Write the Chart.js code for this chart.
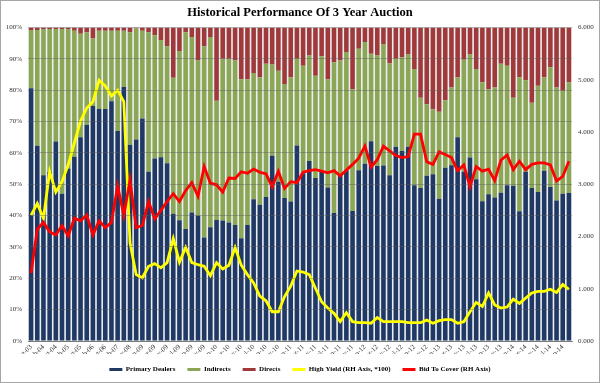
<!DOCTYPE html>
<html>
<head>
<meta charset="utf-8">
<script src="https://cdn.jsdelivr.net/npm/chart.js@4.4.1/dist/chart.umd.min.js"></script>
<style>
  html, body { margin: 0; padding: 0; background: #ffffff; }
  #wrap { width: 600px; height: 383px; position: relative; }
</style>
</head>
<body>
<div id="wrap"><canvas id="c" width="600" height="383"></canvas></div>
<script>
const categories = [
  'Aug-03','Nov-03','Feb-04','May-04','Aug-04','Nov-04','Feb-05','May-05','Aug-05','Nov-05',
  'Feb-06','May-06','Aug-06','Nov-06','Feb-07','May-07',
  'Nov-08','Dec-08',
  'Jan-09','Feb-09','Mar-09','Apr-09','May-09','Jun-09','Jul-09','Aug-09','Sep-09','Oct-09','Nov-09','Dec-09',
  'Jan-10','Feb-10','Mar-10','Apr-10','May-10','Jun-10','Jul-10','Aug-10','Sep-10','Oct-10','Nov-10','Dec-10',
  'Jan-11','Feb-11','Mar-11','Apr-11','May-11','Jun-11','Jul-11','Aug-11','Sep-11','Oct-11','Nov-11','Dec-11',
  'Jan-12','Feb-12','Mar-12','Apr-12','May-12','Jun-12','Jul-12','Aug-12','Sep-12','Oct-12','Nov-12','Dec-12',
  'Jan-13','Feb-13','Mar-13','Apr-13','May-13','Jun-13','Jul-13','Aug-13','Sep-13','Oct-13','Nov-13','Dec-13',
  'Jan-14','Feb-14','Mar-14','Apr-14','May-14','Jun-14','Jul-14','Aug-14','Sep-14','Oct-14'
];

// % of auction taken (left axis)
const primaryDealers = [
  80.6,62.3,52.9,54.0,63.6,47.0,55.0,58.8,65.0,69.0,
  75.0,74.0,74.0,76.5,67.0,81.0,62.6,64.3,71.0,54.0,
  58.2,58.6,56.7,40.6,38.5,35.7,41.0,40.0,33.0,36.3,
  38.6,38.4,37.8,37.0,32.8,37.0,45.2,43.5,45.9,59.1,
  50.8,45.6,44.5,62.4,53.5,57.4,52.0,54.0,49.0,40.8,
  53.0,54.5,41.5,54.5,56.5,63.7,55.8,56.0,52.9,62.0,
  60.6,62.0,49.7,48.8,52.7,53.2,45.4,55.3,56.1,65.0,
  54.0,58.5,51.6,44.6,46.8,45.8,47.3,49.7,49.5,41.4,
  54.0,48.8,47.5,54.3,49.1,44.8,47.0,47.2
];
const indirects = [
  18.6,36.9,46.6,45.5,35.9,52.5,44.5,40.2,33.0,29.5,
  21.5,25.0,25.0,22.5,32.0,18.0,35.9,35.4,28.0,44.5,
  39.3,37.4,37.3,43.4,54.0,62.8,56.0,49.5,61.0,60.7,
  38.0,51.6,52.2,52.5,50.7,46.5,40.3,40.6,42.5,29.1,
  35.4,36.4,39.6,27.6,34.3,33.7,32.6,36.8,34.5,48.1,
  36.5,37.7,38.8,38.7,38.9,27.9,35.3,38.6,35.7,28.0,
  29.9,29.4,37.1,28.8,22.8,20.7,27.7,21.5,24.8,19.1,
  35.7,32.9,35.2,37.9,33.5,35.1,41.1,38.1,28.1,42.7,
  29.2,27.2,33.9,29.8,38.2,36.1,32.8,35.3
];
const directs = [
  0.8,0.8,0.5,0.5,0.5,0.5,0.5,1.0,2.0,1.5,
  3.5,1.0,1.0,1.0,1.0,1.0,1.5,0.3,1.0,1.5,
  2.5,4.0,6.0,16.0,7.5,1.5,3.0,10.5,6.0,3.0,
  23.4,10.0,10.0,10.5,16.5,16.5,14.5,15.9,11.6,11.8,
  13.8,18.0,15.9,10.0,12.2,8.9,15.4,9.2,16.5,11.1,
  10.5,7.8,19.7,6.8,4.6,8.4,8.9,5.4,11.4,10.0,
  9.5,8.6,13.2,22.4,24.5,26.1,26.9,23.2,19.1,15.9,
  10.3,8.6,13.2,17.5,19.7,19.1,11.6,12.2,22.4,15.9,
  16.8,24.0,18.6,15.9,12.7,19.1,20.2,17.5
];

// right axis
const highYield = [
  2.41,2.63,2.35,3.24,2.85,3.05,3.37,3.79,4.21,4.46,
  4.58,4.99,4.88,4.69,4.80,4.58,1.88,1.27,1.21,1.43,
  1.48,1.40,1.50,1.96,1.51,1.79,1.50,1.46,1.43,1.25,
  1.50,1.38,1.45,1.79,1.45,1.27,1.11,0.86,0.77,0.56,
  0.56,0.85,1.05,1.34,1.32,1.27,1.01,0.75,0.63,0.53,
  0.37,0.54,0.37,0.35,0.35,0.34,0.45,0.37,0.37,0.37,
  0.37,0.35,0.35,0.35,0.40,0.34,0.39,0.41,0.41,0.34,
  0.37,0.56,0.74,0.66,0.92,0.69,0.63,0.65,0.80,0.72,
  0.82,0.92,0.95,0.95,0.99,0.93,1.08,0.99
];
const bidToCover = [
  1.30,2.14,2.27,2.09,2.03,2.21,2.01,2.35,2.30,2.41,
  2.03,2.30,2.17,2.27,2.97,2.40,3.08,2.17,2.21,2.67,
  2.34,2.50,2.67,2.82,2.67,2.88,3.03,2.77,3.34,3.02,
  2.99,2.85,3.12,3.11,3.24,3.21,3.29,3.23,3.20,2.95,
  3.25,2.92,3.05,3.03,3.23,3.26,3.28,3.25,3.22,3.26,
  3.16,3.27,3.38,3.50,3.73,3.33,3.47,3.73,3.64,3.55,
  3.51,3.53,3.96,3.96,3.43,3.38,3.62,3.57,3.51,3.26,
  3.37,2.95,3.34,3.25,3.29,3.07,3.46,3.56,3.28,3.44,
  3.28,3.38,3.41,3.41,3.37,3.06,3.15,3.44
];

const SERIF = "'Liberation Serif', 'Times New Roman', serif";

const plotBg = {
  id: 'plotBg',
  beforeDraw(chart) {
    const {ctx, chartArea: a} = chart;
    ctx.save();
    ctx.fillStyle = '#ffffff';
    ctx.fillRect(0, 0, chart.width, chart.height);
    ctx.fillStyle = '#eceef2';
    ctx.fillRect(a.left, a.top, a.right - a.left, a.bottom - a.top);
    ctx.restore();
  },
  afterDraw(chart) {
    const {ctx} = chart;
    ctx.save();
    ctx.strokeStyle = '#a6a6a6';
    ctx.lineWidth = 1;
    ctx.strokeRect(0.5, 0.5, chart.width - 1, chart.height - 1);
    ctx.restore();
  }
};

new Chart(document.getElementById('c'), {
  type: 'bar',
  data: {
    labels: categories,
    datasets: [
      { type: 'bar', label: 'Primary Dealers', data: primaryDealers, backgroundColor: '#1f3864', borderWidth: 0, yAxisID: 'y', order: 2 },
      { type: 'bar', label: 'Indirects', data: indirects, backgroundColor: '#8ba655', borderWidth: 0, yAxisID: 'y', order: 2 },
      { type: 'bar', label: 'Directs', data: directs, backgroundColor: '#a0393a', borderWidth: 0, yAxisID: 'y', order: 2 },
      { type: 'line', label: 'High Yield (RH Axis, *100)', data: highYield, borderColor: '#ffff00', backgroundColor: '#ffff00', borderWidth: 2.8, pointRadius: 0, tension: 0, yAxisID: 'y1', order: 1 },
      { type: 'line', label: 'Bid To Cover (RH Axis)', data: bidToCover, borderColor: '#ff0000', backgroundColor: '#ff0000', borderWidth: 2.8, pointRadius: 0, tension: 0, yAxisID: 'y1', order: 0 }
    ]
  },
  options: {
    responsive: false,
    animation: false,
    devicePixelRatio: 1,
    layout: { padding: { left: 0, right: 0, top: 0, bottom: 0 } },
    datasets: { bar: { barPercentage: 0.74, categoryPercentage: 1.0 } },
    plugins: {
      title: {
        display: true,
        text: 'Historical Performance Of 3 Year Auction',
        font: { family: SERIF, size: 12.5, weight: 'bold' },
        color: '#000000',
        padding: { top: 5, bottom: 7.5 }
      },
      legend: {
        position: 'bottom',
        labels: {
          font: { family: SERIF, size: 7, weight: 'bold' },
          color: '#000000',
          boxWidth: 13,
          boxHeight: 3,
          padding: 12,
          sort: (a, b) => a.datasetIndex - b.datasetIndex,
          generateLabels: (chart) => Chart.defaults.plugins.legend.labels.generateLabels(chart)
            .map(l => Object.assign(l, { lineWidth: 0 }))
        }
      },
      tooltip: { enabled: false }
    },
    scales: {
      x: {
        stacked: true,
        grid: { display: false, drawTicks: false },
        border: { display: true, color: '#8c8c8c' },
        afterFit: (s) => { s.height = 13; },
        ticks: {
          autoSkip: false,
          minRotation: 45,
          maxRotation: 45,
          padding: 2,
          font: { family: SERIF, size: 7 },
          color: '#333333',
          callback: (v, i) => (i % 2 === 0 ? categories[i] : null)
        }
      },
      y: {
        stacked: true,
        position: 'left',
        min: 0, max: 100,
        afterFit: (s) => { s.width = 28; },
        grid: { color: 'rgba(90,90,90,0.4)', lineWidth: 1, drawTicks: false, z: 1 },
        border: { display: false },
        ticks: {
          stepSize: 10,
          padding: 6,
          font: { family: SERIF, size: 7 },
          color: '#333333',
          callback: (v) => v + '%'
        }
      },
      y1: {
        stacked: false,
        position: 'right',
        min: 0, max: 6,
        afterFit: (s) => { s.width = 28; },
        grid: { display: false, drawTicks: false },
        border: { display: false },
        ticks: {
          stepSize: 1,
          padding: 6,
          font: { family: SERIF, size: 7 },
          color: '#333333',
          callback: (v) => v.toFixed(3)
        }
      }
    }
  },
  plugins: [plotBg]
});
</script>
</body>
</html>
